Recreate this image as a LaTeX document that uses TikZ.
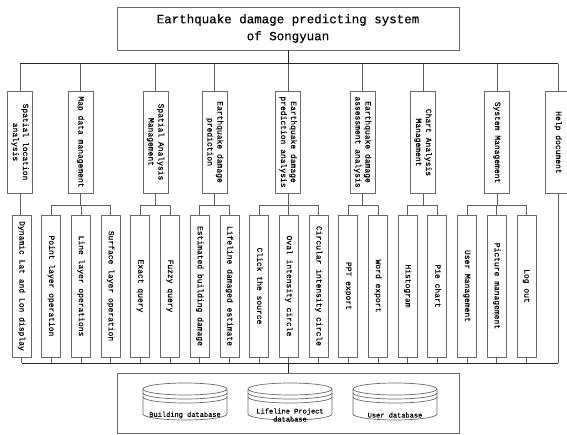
\documentclass[tikz,border=0pt]{standalone}
\usepackage{fontspec}
\usepackage{graphicx}
\setmainfont{Liberation Mono}[FakeBold=0.35]
\definecolor{boxgray}{RGB}{105,105,105}
\definecolor{linegray}{RGB}{95,95,95}
\newcommand\vtext[1]{\rotatebox{-90}{\begin{tabular}{@{}c@{}}#1\end{tabular}}}
\tikzset{
  rootbox/.style={draw=boxgray, line width=0.9pt, minimum width=342pt, minimum height=43pt, inner sep=0pt, align=center, font=\fontsize{12.5}{17}\selectfont},
  lonebox/.style={draw=boxgray, line width=0.8pt, fill=white, minimum width=25pt, minimum height=102pt, inner sep=0pt, font=\fontsize{8}{10}\selectfont},
  ltwobox/.style={draw=boxgray, line width=0.8pt, fill=white, minimum width=19pt, minimum height=142pt, inner sep=0pt, font=\fontsize{8}{10}\selectfont},
  dbbox/.style={draw=boxgray, line width=0.9pt, minimum width=342pt, minimum height=60pt, inner sep=0pt},
  ln/.style={draw=linegray, line width=0.8pt},
  busln/.style={draw=black!85, line width=1pt},
  cyl/.style={draw=boxgray, line width=0.7pt},
  dblabel/.style={inner sep=0pt, align=center, font=\fontsize{7}{8}\selectfont}
}
\begin{document}
\begin{tikzpicture}[x=1pt, y=-1pt]
\useasboundingbox (0,0) rectangle (567,435);
\coordinate (busc) at (0,64);
\coordinate (sb) at (0,205);
\coordinate (bb) at (0,363);

% root
\node[rootbox] (root) at (288,28.5) {Earthquake damage predicting system\\of Songyuan};

% level 1
\node[lonebox] (p1) at (20,142) {\vtext{Spatial location\\analysis}};
\node[lonebox] (p2) at (80.5,142) {\vtext{Map data management}};
\node[lonebox] (p3) at (155.5,142) {\vtext{Spatial Analysis\\Management}};
\node[lonebox] (p4) at (214.5,142) {\vtext{Earthquake damage\\prediction}};
\node[lonebox] (p5) at (288,142) {\vtext{Earthquake damage\\prediction analysis}};
\node[lonebox] (p6) at (362.5,142) {\vtext{Earthquake damage\\assessment analysis}};
\node[lonebox] (p7) at (423,142.5) {\vtext{Chart Analysis\\Management}};
\node[lonebox] (p8) at (497,142.5) {\vtext{System Management}};
\node[lonebox] (p9) at (558,142.5) {\vtext{Help document}};

% level 2
\foreach \i/\t in {1/Dynamic Lat and Lon display, 2/Point layer operation, 3/Line layer operations,
  4/Surface layer operation, 5/Exact query, 6/Fuzzy query, 7/Estimated building damage,
  8/Lifeline damaged estimate, 9/Click the source, 10/Oval intensity circle,
  11/Circular intensity circle, 12/PPT export, 13/Word export, 14/Histogram, 15/Pie chart,
  16/User Management, 17/Picture management, 18/Log out}
  \node[ltwobox] (c\i) at ({21.5+(\i-1)*29.7},286) {\vtext{\t}};

% database box
\node[dbbox] (dbs) at (288,403) {};

% root to bus
\draw[busln] (root.south) -- (root.south |- busc);
\draw[busln] (p1.north |- busc) -- (p9.north |- busc);
\foreach \p in {p1,p2,p3,p4,p5,p6,p7,p8,p9}
  \draw[ln] (\p.north) -- (\p.north |- busc);

% level 1 to level 2
\draw[ln] (p1.south) -- (p1.south |- c1.north);
\foreach \p/\a/\b in {p2/c2/c4, p3/c5/c6, p4/c7/c8, p5/c9/c11, p6/c12/c13, p7/c14/c15, p8/c16/c18} {
  \draw[ln] (\p.south) -- (\p.south |- sb);
  \draw[ln] (\a.north |- sb) -- (\b.north |- sb);
}
\foreach \i in {2,...,18}
  \draw[ln] (c\i.north) -- (c\i.north |- sb);

% bottom bus
\foreach \i in {1,...,18}
  \draw[ln] (c\i.south) -- (c\i.south |- bb);
\draw[ln] (p9.south) -- (p9.south |- bb);
\draw[busln] (c1.south |- bb) -- (p9.south |- bb);
\draw[busln] (dbs.north |- bb) -- (dbs.north);

% cylinders
\foreach \cx in {185,290,395} {
  \draw[cyl] (\cx,389) ellipse [x radius=42, y radius=6];
  \draw[cyl] (\cx-42,393) arc[start angle=180, end angle=0, x radius=42, y radius=6];
  \draw[cyl] (\cx-42,397) arc[start angle=180, end angle=0, x radius=42, y radius=6];
  \draw[cyl] (\cx-42,389) -- (\cx-42,414) arc[start angle=180, end angle=0, x radius=42, y radius=6] -- (\cx+42,389);
}
\node[dblabel] (d1) at (185,415) {Building database};
\node[dblabel] (d2) at (290,415) {Lifeline Project\\database};
\node[dblabel] (d3) at (395,415) {User database};
\end{tikzpicture}
\end{document}
